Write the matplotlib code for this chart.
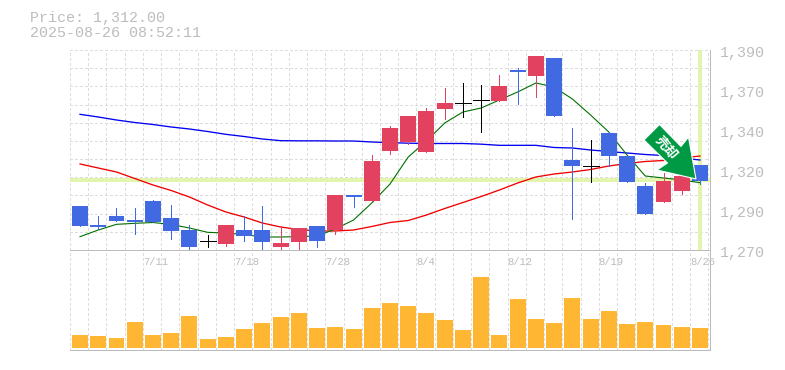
import matplotlib
matplotlib.use("Agg")
import matplotlib.pyplot as plt
from matplotlib.patches import Polygon
from matplotlib.transforms import Affine2D

plt.rcParams['font.family'] = ['Liberation Mono', 'DejaVu Sans Mono']

opens = [1296.4,1285,1290.4,1288,1299.4,1289.2,1282,1275.4,1273.6,1282,1282,1271.8,1274.8,1284.4,1281.8,1303,1299.4,1329.4,1334.8,1328.8,1354.6,1358,1359.8,1359.4,1378,1374.4,1385.2,1324,1320.2,1340.2,1326.4,1308.4,1298.8,1305.4,1321]
closes = [1284.4,1283.8,1287.4,1286.8,1286.8,1281.4,1271.8,1275.4,1285,1278.4,1274.8,1274.2,1283.2,1275.4,1303,1301.8,1323.4,1343.2,1350.4,1353.4,1358.2,1358,1359.8,1368.4,1376.8,1386.4,1350.4,1320.4,1320.2,1326.4,1310.8,1291.6,1311.4,1314.4,1311.4]
highs = [1296.4,1290.4,1295.2,1295.2,1300,1297,1285,1279,1285,1290.4,1296.4,1284.4,1283.2,1284.4,1303,1303,1327,1344.4,1350.4,1355.2,1367.2,1370.2,1369,1375,1379.2,1386.4,1385.2,1343.2,1336,1340.8,1326.4,1310.2,1316.2,1314.4,1321]
lows = [1284.4,1282.6,1287.4,1279.6,1286.8,1276.6,1270,1271.8,1272.4,1275.4,1270.6,1270,1270,1271.8,1279.6,1295.8,1299.4,1327.6,1333.6,1328.8,1348.6,1349.8,1340.8,1359.4,1357.6,1361.8,1350.4,1288.6,1310.8,1320.4,1310.8,1291.6,1298.8,1303.6,1309.6]
ma_short = [1278,1282,1285.4,1286,1286.5,1285.3,1283.2,1280.6,1280.2,1279.3,1277.8,1277.8,1278,1278.4,1282.6,1288,1298.2,1309.6,1325.8,1335.4,1346.2,1352.8,1355.2,1360,1364.8,1370.2,1367.8,1360.6,1351,1340.8,1327,1314.4,1313.2,1312,1310.4]
ma_mid = [1321.6,1319.2,1316.8,1312.9,1309,1305.7,1301.8,1297,1292.8,1289.8,1286.2,1283.8,1282.3,1281.4,1281.4,1282,1284.1,1286.5,1287.7,1291,1294.9,1298.5,1302.1,1306,1310.2,1313.8,1315.6,1316.8,1318.3,1320.4,1321.9,1323.1,1323.7,1325.2,1326.4]
ma_long = [1351.4,1349.8,1348,1346.5,1345.3,1343.8,1342.6,1341.1,1339.4,1338.1,1336.6,1335.6,1335.5,1335.5,1335.4,1335.4,1334.8,1334.4,1334.1,1333.9,1333.9,1333.9,1333.5,1332.8,1332.8,1332.8,1331.5,1331.2,1330,1329.1,1328.2,1327.3,1326.7,1325.2,1324]
volumes = [13,12,10,26,13,15,32,9,11,19,25,31,35,20,21,19,40,45,42,35,28,18,71,13,49,29,25,50,29,37,24,26,23,21,20]
price_ticks = [1390,1366,1342,1318,1294,1270]
date_idx = [4,9,14,19,24,29,34]
date_labels = ['7/11','7/18','7/28','8/4','8/12','8/19','8/26']
last_price = 1312
title_lines = ['Price: 1,312.00', '2025-08-26 08:52:11']

W, H = 785, 370
RED, BLUE, GREY, TXT = '#E2425F', '#4169E1', '#BBBBBB', '#BDBDBD'
fig = plt.figure(figsize=(W/100, H/100), dpi=100, facecolor='white')
px = Affine2D().scale(1, -1).translate(0, H)
THIN = 0.5

def make_ax(top, bottom):
    a = fig.add_axes([70/W, (H-bottom)/H, 640/W, (bottom-top)/H])
    for s in a.spines.values():
        s.set_visible(False)
    a.tick_params(left=False, bottom=False, labelleft=False, labelbottom=False)
    a.set_xlim(-0.55, 34.55)
    a.patch.set_alpha(0)
    return a

ax = make_ax(50, 250)
vax = make_ax(250, 350)
ax.set_ylim(1270, 1390)
vax.set_ylim(-2, 98)

n = len(opens)
xs = list(range(n))
grid_x = [i - 0.55 for i in range(n + 1)]
gkw = dict(color='#DDDDDD', lw=THIN, dashes=(4.3, 4.3), zorder=1, antialiased=False)
for a in (ax, vax):
    for gx in grid_x:
        a.axvline(gx, **gkw)
for k in range(12):
    ax.axhline(1270 + 120 * k / 11, **gkw)

# last price / current date markers
ax.axhline(last_price, color='#E3F5AC', lw=1.6, zorder=2, antialiased=False)
ax.axvline(34, color='#E3F5AC', lw=1.6, ymin=0.005, zorder=2, antialiased=False)

lkw = dict(zorder=3, antialiased=True, solid_joinstyle='miter')
ax.plot(xs, ma_long, color='#0000F0', lw=0.95, **lkw)
ax.plot(xs, ma_mid, color='#F00000', lw=0.95, **lkw)
ax.plot(xs, ma_short, color='#007000', lw=0.8, **lkw)

for i in xs:
    o, c, h, l = opens[i], closes[i], highs[i], lows[i]
    col = 'black' if o == c else (RED if c > o else BLUE)
    ax.vlines(i, l, h, color=col, lw=THIN, zorder=4, antialiased=False)
    if o == c:
        ax.hlines(o, i - 0.44, i + 0.44, color='black', lw=THIN, zorder=4, antialiased=False)
    else:
        ax.bar(i, abs(c - o), 0.877, bottom=min(o, c), color=col, lw=0, zorder=5, antialiased=False)

vax.bar(xs, volumes, 0.877, color='#FFB733', lw=0, zorder=3, antialiased=False)

# borders
for a in (ax, vax):
    a.plot([0, 1], [0, 0], transform=a.transAxes, color=GREY, lw=0.72, clip_on=False, zorder=6, antialiased=False)
    a.plot([1, 1], [0, 1], transform=a.transAxes, color=GREY, lw=0.72, clip_on=False, zorder=6, antialiased=False)

# labels
for p in price_ticks:
    txt = f"{int(round(p, -1)):,}"
    ax.annotate(txt, xy=(1, p), xycoords=('axes fraction', 'data'), xytext=(7.2, -3 * 0.72),
                textcoords='offset points', fontsize=10.8, color=TXT, ha='left', va='center', annotation_clip=False)
for i, lab in zip(date_idx, date_labels):
    vax.annotate(lab, xy=(i - 0.55, 1), xycoords=('data', 'axes fraction'), xytext=(0, -12 * 0.72),
                 textcoords='offset points', fontsize=7.6, color=TXT, ha='left', va='center', annotation_clip=False)
for s, y in zip(title_lines, (18, 33)):
    fig.text(30, y, s, transform=px, fontsize=10.8, color=TXT, ha='left', va='center')

# signal arrow
arrow = [(659.5,124.5),(644,140),(667.5,163),(657,170),(696,179),(688.5,137),(681,146.5)]
fig.add_artist(Polygon(arrow, closed=True, transform=px, facecolor='#009944', edgecolor='white', lw=0.8, zorder=10))
fig.text(666, 147.5, '売却', transform=px, family=['Noto Sans CJK JP', 'DejaVu Sans'], fontsize=9.5, fontweight='bold',
         color='white', rotation=-50, rotation_mode='anchor', ha='center', va='center', zorder=11)

fig.savefig('out.png', dpi=100)
